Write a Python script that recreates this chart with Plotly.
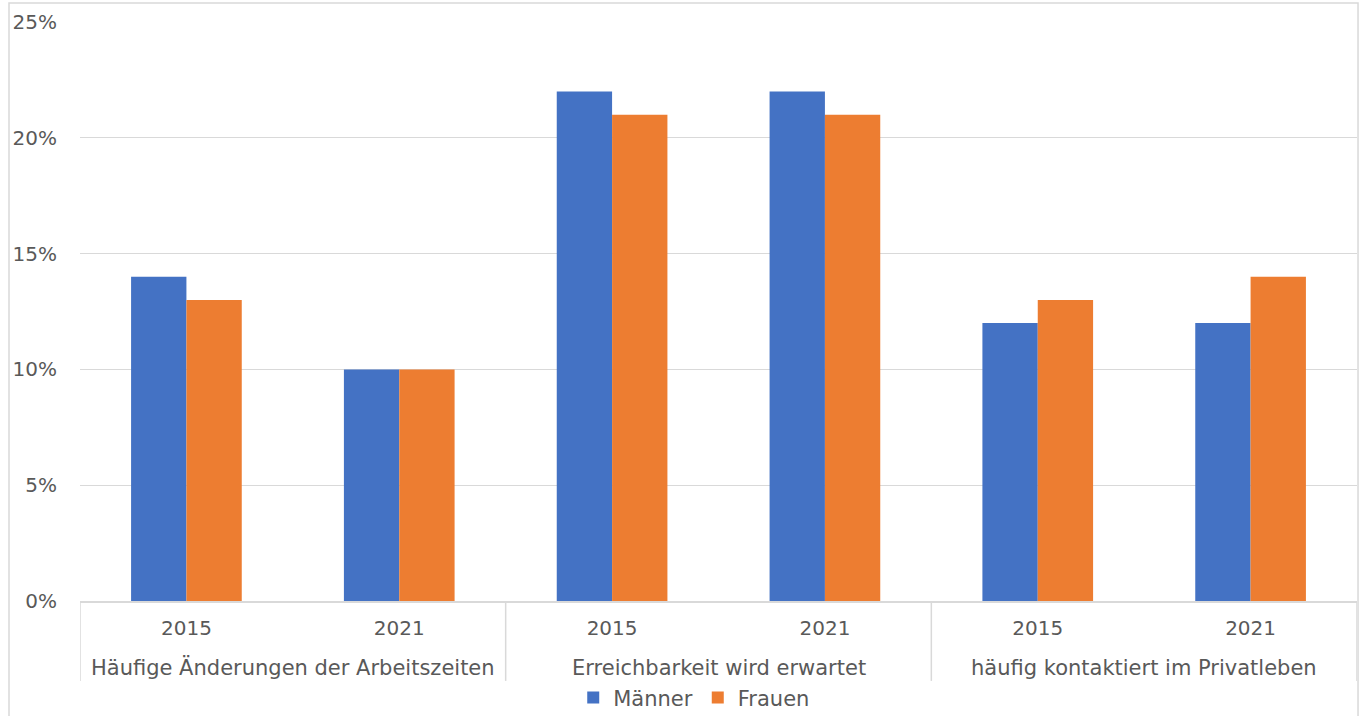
import plotly.graph_objects as go

# Survey categories, years and shares (in %) per gender
groups = ["Häufige Änderungen der Arbeitszeiten", "Erreichbarkeit wird erwartet", "häufig kontaktiert im Privatleben"]
years = ["2015", "2021"]
maenner = [14, 10, 22, 22, 12, 12]
frauen = [13, 10, 21, 21, 13, 14]
y_ticks = [0, 5, 10, 15, 20, 25]
y_tick_labels = ["0%", "5%", "10%", "15%", "20%", "25%"]

FONT = "DejaVu Sans"
GREY = "#595959"
LINE = "#d9d9d9"

# one slot per (group, year) pair on a numeric category axis
n_years = len(years)
slots = list(range(len(groups) * n_years))
slot_labels = [y for _ in groups for y in years]
group_centers = [g * n_years + (n_years - 1) / 2 for g in range(len(groups))]
dividers = [g * n_years - 0.5 for g in range(len(groups) + 1)]

fig = go.Figure()
fig.add_trace(go.Bar(name="Männer", x=slots, y=maenner,
                     marker=dict(color="#4472C4", line=dict(width=0))))
fig.add_trace(go.Bar(name="Frauen", x=slots, y=frauen,
                     marker=dict(color="#ED7D31", line=dict(width=0))))

shapes = [
    # chart area border
    dict(type="rect", xref="paper", yref="paper",
         x0=-0.0556, x1=1.0008, y0=-0.3, y1=1.0328,
         line=dict(color=LINE, width=1.5), layer="below"),
]
for d in dividers:
    shapes.append(dict(type="line", xref="x", yref="paper", x0=d, x1=d,
                       y0=0, y1=-0.138, line=dict(color=LINE, width=1.5)))

annotations = [
    dict(text=g, x=c, xref="x", y=-0.1157, yref="paper", yanchor="middle",
         xanchor="center", showarrow=False, font=dict(size=21, color=GREY, family=FONT))
    for g, c in zip(groups, group_centers)
]

fig.update_layout(
    width=1359, height=716,
    margin=dict(l=80, r=2, t=22, b=115, autoexpand=False),
    paper_bgcolor="white", plot_bgcolor="white",
    barmode="group", bargap=0.48, bargroupgap=0,
    font=dict(family=FONT, size=20, color=GREY),
    showlegend=True,
    legend=dict(orientation="h", x=0.481, xanchor="center", y=-0.132, yanchor="top",
                font=dict(size=21, color=GREY), traceorder="normal"),
    shapes=shapes,
    annotations=annotations,
)
fig.update_xaxes(
    range=[dividers[0], dividers[-1]], tickvals=slots, ticktext=slot_labels,
    showgrid=False, showline=True, linecolor=LINE, linewidth=1.5, zeroline=False,
    ticks="", ticklabelstandoff=8, automargin=False,
    tickfont=dict(size=20, color=GREY, family=FONT),
)
fig.update_yaxes(
    range=[0, 25], tickvals=y_ticks, ticktext=y_tick_labels,
    showgrid=True, gridcolor=LINE, gridwidth=1, zeroline=False,
    showline=False, ticks="", ticklabelstandoff=22, automargin=False,
    tickfont=dict(size=20, color=GREY, family=FONT),
)

fig.write_html("out.html")
